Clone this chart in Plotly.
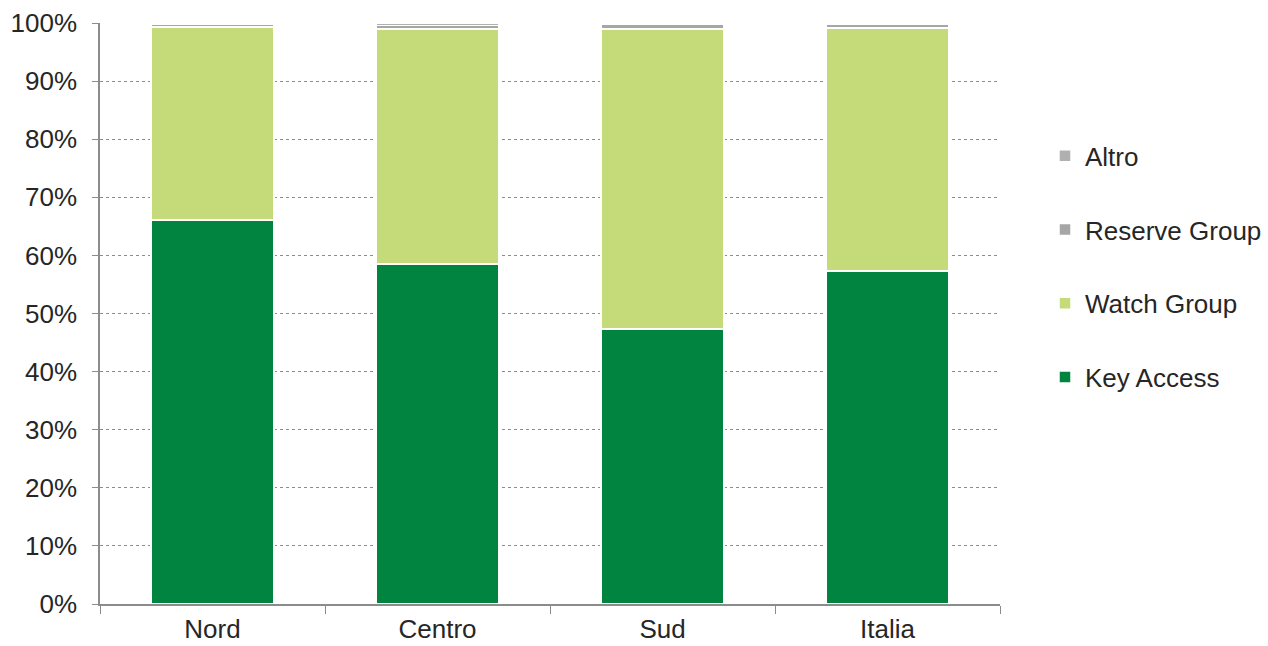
import plotly.graph_objects as go

categories = ["Nord", "Centro", "Sud", "Italia"]
key_access = [66.1, 58.5, 47.3, 57.3]
watch_group = [33.2, 40.5, 51.7, 41.8]
reserve_group = [0.4, 0.6, 0.8, 0.6]
altro = [0.3, 0.4, 0.2, 0.3]

# name, values, colour, legend rank (top of legend first)
series = [
    ("Key Access", key_access, "#00843F", 4),
    ("Watch Group", watch_group, "#C5DA78", 3),
    ("Reserve Group", reserve_group, "#A6A6A6", 2),
    ("Altro", altro, "#B0B0B0", 1),
]

fig = go.Figure()
for name, vals, color, rank in series:
    fig.add_trace(go.Bar(
        x=categories, y=vals, name=name, legendgroup=name, legendrank=rank,
        marker=dict(color=color, line=dict(color="white", width=1.5)),
    ))

font_family = "Liberation Sans, Arial, sans-serif"
fig.update_layout(
    width=1268, height=646,
    barmode="stack", bargap=0.455,
    paper_bgcolor="white", plot_bgcolor="white",
    margin=dict(l=100, r=268, t=23, b=42, autoexpand=False),
    font=dict(family=font_family, size=26, color="#262626"),
    showlegend=True,
    legend=dict(
        x=1.05, xanchor="left", y=0.812, yanchor="top",
        traceorder="grouped", tracegroupgap=37,
        font=dict(size=26, color="#262626"),
        itemwidth=30,
    ),
    xaxis=dict(
        showline=True, linecolor="#8C8C8C", linewidth=1.5,
        ticks="outside", tickson="boundaries", ticklen=8, tickcolor="#8C8C8C",
        showgrid=False, ticklabelstandoff=1, automargin=False,
    ),
    yaxis=dict(
        range=[0, 100], dtick=10, ticksuffix="%",
        showline=True, linecolor="#8C8C8C", linewidth=1.5,
        ticks="outside", ticklen=6, tickcolor="#8C8C8C",
        showgrid=True, gridcolor="#8C8C8C", griddash="dot", gridwidth=1,
        zeroline=False, ticklabelstandoff=10, automargin=False,
    ),
)

fig.write_html("out.html")
